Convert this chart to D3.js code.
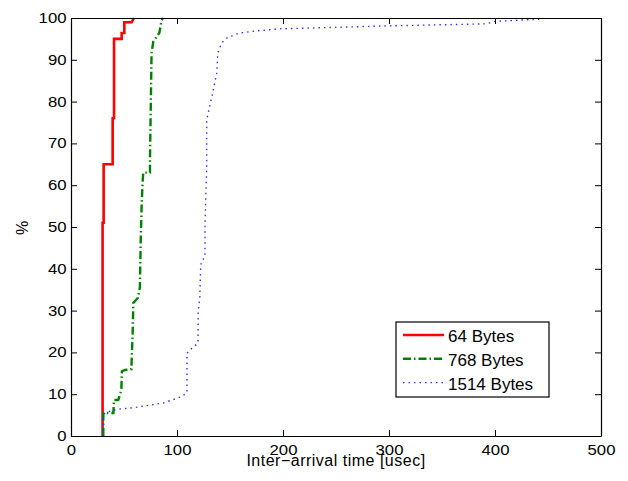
<!DOCTYPE html>
<html>
<head>
<meta charset="utf-8">
<script src="https://cdn.jsdelivr.net/npm/d3@7"></script>
<style>
  body { margin: 0; background: #fff; }
  text { font-family: "Liberation Sans", Arial, sans-serif; fill: #000; }
</style>
</head>
<body>
<svg width="628" height="481"></svg>
<script>
// CDF of inter-arrival times, [usec, %] vertices
var bytes64 = [[29.8,0],[29.8,51],[30.8,51],[30.8,65],[39.3,65],[39.3,76],[40.6,76],[40.6,95],
    [47.8,95],[47.8,96.4],[50.3,96.4],[50.3,99],[57.3,99],[59.4,100]];
var bytes768 = [[30.5,0],[30.5,5.5],[40,5.5],[40.5,8.6],[44.6,8.6],[47.5,11],[48,15.5],[51,15.8],
    [57,16],[57.2,18],[58.2,25],[58.8,31.8],[63,33],[65,35.6],[65.7,46],[66.7,55.7],[67.6,61],
    [68.2,63],[74.5,63],[74.5,66],[76,91.6],[77.6,94.3],[83.3,96.4],[85.5,99.5],[86.8,100]];
var bytes1514 = [[30,0],[30,4.3],[32,5.5],[35,5.8],[44,6.4],[60,6.8],[80,7.6],[87,7.9],[103,9.3],
    [109.4,10.3],[109.4,19.8],[114,21],[119.8,22.2],[120,30],[121.5,33],[122.4,41],[124,42],
    [126.4,43],[126.4,50],[127,56],[128,64],[128,75.6],[132.7,81],[137.5,86.8],[138.5,91.6],
    [142,94],[148,95.4],[159,96.4],[178,97],[197,97.4],[296,98.1],[392,98.6],[400,99.2],
    [441,99.7],[443,100]];

var seriesNames = ["64 Bytes", "768 Bytes", "1514 Bytes"];
var xTicks = [0, 100, 200, 300, 400, 500];
var yTicks = [0, 10, 20, 30, 40, 50, 60, 70, 80, 90, 100];

var styles = [
    {color: "#ff0000", width: 2.6, dash: null},
    {color: "#008000", width: 2.4, dash: "8,3,1.5,3"},
    {color: "#3333ff", width: 1.4, dash: "1.5,4"}
];

var mLeft = 71, mTop = 18, mRight = 601, mBottom = 436;

var xScale = d3.scaleLinear().domain([0, 500]).range([mLeft, mRight]);
var yScale = d3.scaleLinear().domain([0, 100]).range([mBottom, mTop]);

var svg = d3.select("svg");

// curves
var line = d3.line()
    .x(function(d) { return xScale(d[0]); })
    .y(function(d) { return yScale(d[1]); });

[bytes64, bytes768, bytes1514].forEach(function(s, i) {
    svg.append("path")
        .datum(s)
        .attr("d", line)
        .attr("fill", "none")
        .attr("stroke", styles[i].color)
        .attr("stroke-width", styles[i].width)
        .attr("stroke-dasharray", styles[i].dash);
});

// axes, MATLAB style: box with inward ticks on all sides
var tickLen = 6;
svg.append("g").attr("transform", "translate(0," + mBottom + ")")
    .call(d3.axisBottom(xScale).tickValues(xTicks).tickSizeInner(-tickLen).tickSizeOuter(0).tickPadding(9));
svg.append("g").attr("transform", "translate(0," + mTop + ")")
    .call(d3.axisTop(xScale).tickValues(xTicks).tickSizeInner(-tickLen).tickSizeOuter(0).tickFormat(""));
svg.append("g").attr("transform", "translate(" + mLeft + ",0)")
    .call(d3.axisLeft(yScale).tickValues(yTicks).tickSizeInner(-tickLen).tickSizeOuter(0).tickPadding(4.5));
svg.append("g").attr("transform", "translate(" + mRight + ",0)")
    .call(d3.axisRight(yScale).tickValues(yTicks).tickSizeInner(-tickLen).tickSizeOuter(0).tickFormat(""));

svg.selectAll(".domain").attr("stroke", "#000").attr("stroke-width", 1.2);
svg.selectAll(".tick line").attr("stroke", "#000").attr("stroke-width", 1);
// tick digits in the figure are drawn wide, so stretch them a little
svg.selectAll(".tick text")
    .attr("font-family", "Liberation Sans, Arial, sans-serif")
    .attr("font-size", 14)
    .attr("fill", "#000")
    .each(function() {
        var t = d3.select(this);
        var n = t.text().length;
        if (n) t.attr("textLength", n * 9.3).attr("lengthAdjust", "spacingAndGlyphs");
    });

// labels
svg.append("text")
    .attr("x", (mLeft + mRight) / 2)
    .attr("y", 466)
    .attr("text-anchor", "middle")
    .attr("font-size", 16)
    .attr("letter-spacing", 0.5)
    .text("Inter\u2212arrival time [usec]");

svg.append("text")
    .attr("transform", "translate(28,228) rotate(-90)")
    .attr("text-anchor", "middle")
    .attr("font-size", 16)
    .text("%");

// legend
var legend = svg.append("g").attr("transform", "translate(396,322)");
legend.append("rect")
    .attr("width", 153).attr("height", 75)
    .attr("fill", "#fff").attr("stroke", "#000").attr("stroke-width", 1.2);

seriesNames.forEach(function(name, i) {
    var y = 13 + i * 23.8;
    legend.append("line")
        .attr("x1", 7).attr("x2", 48)
        .attr("y1", y).attr("y2", y)
        .attr("stroke", styles[i].color)
        .attr("stroke-width", styles[i].width)
        .attr("stroke-dasharray", styles[i].dash);
    legend.append("text")
        .attr("x", 52)
        .attr("y", y + 7)
        .attr("font-size", 17)
        .text(name);
});
</script>
</body>
</html>
